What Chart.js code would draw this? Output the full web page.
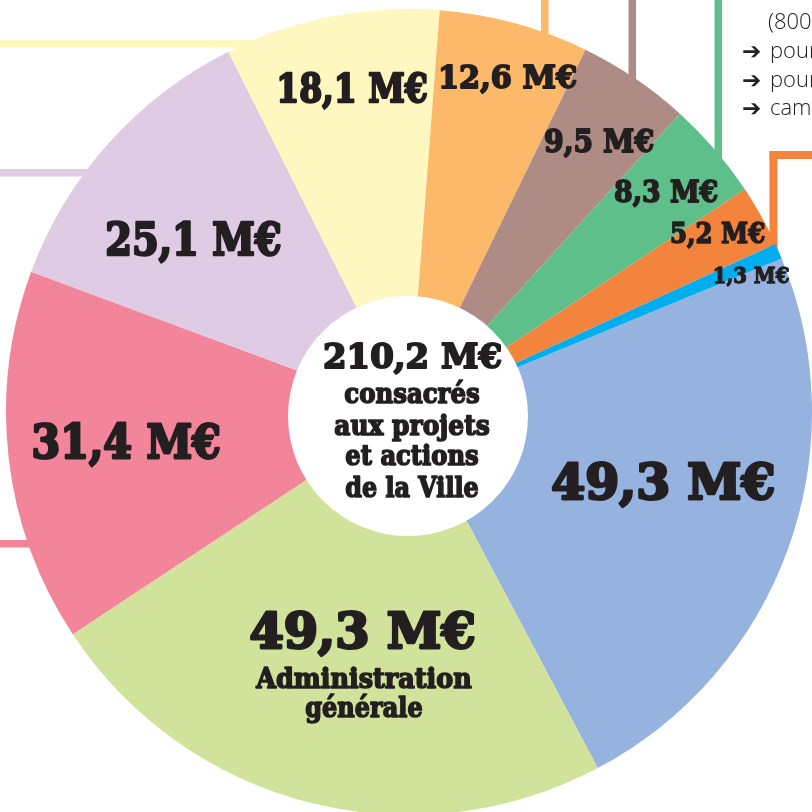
<!DOCTYPE html>
<html>
<head>
<meta charset="utf-8">
<script src="https://cdn.jsdelivr.net/npm/chart.js@4.4.1/dist/chart.umd.min.js"></script>
<style>
  html, body { margin: 0; padding: 0; background: #ffffff; overflow: hidden; width: 812px; height: 812px; }
  #wrap { position: absolute; left: 0; top: 0; width: 812px; height: 830px; }
</style>
</head>
<body>
<div id="wrap"><canvas id="c" width="812" height="830"></canvas></div>
<script>
// ---- data ----
const categories = ['Poste bleu', 'Administration générale', 'Poste rose', 'Poste lilas', 'Poste jaune',
                    'Poste orange clair', 'Poste brun', 'Poste vert', 'Poste orange', 'Poste cyan'];
const values = [49.3, 49.3, 31.4, 25.1, 18.1, 12.6, 9.5, 8.3, 5.2, 1.3];
const colors = ['#95B3DE', '#D1E39B', '#F28599', '#DFCBE3', '#FEF7C0',
                '#FDB96A', '#AE8C85', '#5FBF8A', '#F2843D', '#00AEEF'];
const totalLabel = '210,2 M€';
const centerLines = ['consacrés', 'aux projets', 'et actions', 'de la Ville'];
const adminLines = ['Administration', 'générale'];
const noteLines = ['(800', 'pour', 'pour', 'cam'];

// ---- styles (label placement relative to each slice) ----
const labelStyle = [
  { off: -0.94, fr: 0.667, size: 48, w: 227 },
  { off: -3.16, fr: 0.597, size: 48, w: 229 },
  { off: -2.67, fr: 0.711, size: 47, w: 192 },
  { off: -5.78, fr: 0.662, size: 44, w: 179 },
  { off: 0.72,  fr: 0.782, size: 40, w: 154 },
  { off: 1.75,  fr: 0.840, size: 32, w: 141 },
  { off: 2.07,  fr: 0.799, size: 32, w: 112 },
  { off: 1.40,  fr: 0.824, size: 30, w: 106 },
  { off: 0.38,  fr: 0.873, size: 27, w: 97 },
  { off: 2.85,  fr: 0.907, size: 22, w: 78 }
];
const TEXT = '#231F20';
const SERIF = '"DejaVu Serif", serif';

function fmt(v) { return v.toFixed(1).replace('.', ',') + ' M€'; }

function fitText(ctx, text, x, y, size, width) {
  ctx.save();
  ctx.font = 'bold ' + size + 'px ' + SERIF;
  const lw = size * 0.06;
  const m = ctx.measureText(text).width;
  const s = (width - lw) / m;
  ctx.translate(x, y);
  ctx.scale(s, 1);
  ctx.textAlign = 'center';
  ctx.textBaseline = 'alphabetic';
  ctx.fillStyle = TEXT;
  ctx.strokeStyle = TEXT;
  ctx.lineWidth = lw;
  ctx.lineJoin = 'round';
  ctx.fillText(text, 0, 0);
  ctx.strokeText(text, 0, 0);
  ctx.restore();
}

const decoPlugin = {
  id: 'deco',
  beforeDatasetsDraw(chart) {
    const ctx = chart.ctx;
    ctx.save();
    // leader lines (behind the pie)
    ctx.fillStyle = colors[4]; ctx.fillRect(0, 40, 300, 7.5);
    ctx.fillStyle = colors[3]; ctx.fillRect(0, 169, 140, 7.5);
    ctx.fillStyle = colors[2]; ctx.fillRect(0, 540, 80, 7.5);
    ctx.fillStyle = colors[5]; ctx.fillRect(541, 0, 7.5, 60);
    ctx.fillStyle = colors[6]; ctx.fillRect(628.5, 0, 7.5, 100);
    ctx.fillStyle = colors[7]; ctx.fillRect(714.5, 0, 7.5, 180);
    ctx.fillStyle = colors[8];
    ctx.fillRect(769.5, 151, 50, 8);
    ctx.fillRect(769.5, 151, 8, 110);
    ctx.restore();
  },
  afterDatasetsDraw(chart) {
    const ctx = chart.ctx;
    const meta = chart.getDatasetMeta(0);
    const p0 = meta.data[0].getProps(['x', 'y'], true);
    const cx = p0.x, cy = p0.y;
    // white centre disc
    ctx.save();
    ctx.fillStyle = '#ffffff';
    ctx.beginPath();
    ctx.arc(cx - 1, cy + 4, 120, 0, Math.PI * 2);
    ctx.fill();
    ctx.restore();
    meta.data.forEach((arc, i) => {
      const p = arc.getProps(['x', 'y', 'startAngle', 'endAngle', 'outerRadius'], true);
      const st = labelStyle[i];
      const a = (p.startAngle + p.endAngle) / 2 + st.off * Math.PI / 180;
      const r = st.fr * p.outerRadius;
      const x = p.x + Math.cos(a) * r;
      const y = p.y + Math.sin(a) * r;
      fitText(ctx, fmt(values[i]), x, y, st.size, st.w);
      if (i === 1) {
        fitText(ctx, adminLines[0], x + 1.5, y + 40, 27, 217);
        fitText(ctx, adminLines[1], x + 1.5, y + 69, 27, 119);
      }
    });
    // centre text
    fitText(ctx, totalLabel, cx + 3.5, cy - 44, 34, 181);
    const cw = [137, 157, 135, 135];
    const cdy = [-9, 23, 53, 85];
    centerLines.forEach((t, k) => fitText(ctx, t, cx + 3, cy + cdy[k], 28, cw[k]));
    // note text, top right
    ctx.save();
    ctx.fillStyle = '#222222';
    ctx.textAlign = 'left';
    ctx.textBaseline = 'alphabetic';
    ctx.font = '300 22px "Open Sans", sans-serif';
    ctx.fillText(noteLines[0], 768, 29);
    const bl = [58, 87, 115];
    for (let k = 1; k < noteLines.length; k++) {
      ctx.font = '23px "DejaVu Sans", sans-serif';
      ctx.fillText('➔', 742, bl[k - 1] + 1);
      ctx.font = '300 22px "Open Sans", sans-serif';
      ctx.fillText(noteLines[k], 770, bl[k - 1]);
    }
    ctx.restore();
  }
};

new Chart(document.getElementById('c'), {
  type: 'pie',
  data: {
    labels: categories,
    datasets: [{
      data: values,
      backgroundColor: colors,
      borderWidth: 0,
      hoverOffset: 0,
      offset: 0
    }]
  },
  options: {
    responsive: false,
    animation: false,
    rotation: 67.6,
    layout: { padding: { left: 6, right: 0, top: 9, bottom: 15 } },
    plugins: { legend: { display: false }, tooltip: { enabled: false } },
    events: []
  },
  plugins: [decoPlugin]
});
</script>
</body>
</html>
